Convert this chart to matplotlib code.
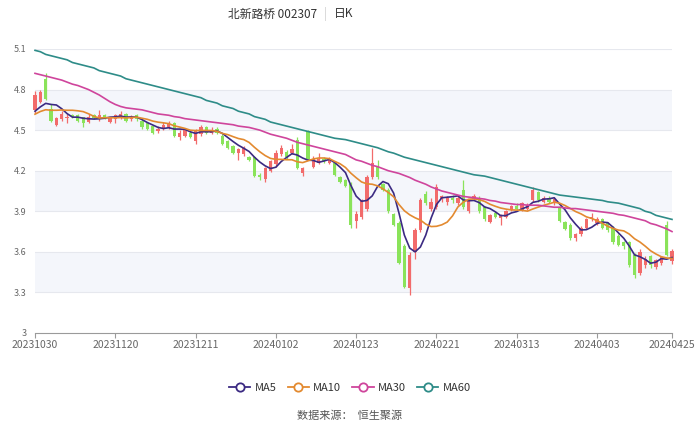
import matplotlib
matplotlib.use("Agg")
import matplotlib.pyplot as plt
from matplotlib.lines import Line2D
import numpy as np
import pandas as pd

plt.rcParams['font.family'] = ['Noto Sans CJK SC', 'DejaVu Sans']

title = "北新路桥 002307"
period = "日K"
source = "数据来源：  恒生聚源"

# trading days 2023-10-30 .. 2024-04-25 (weekday holidays removed)
holidays = ['2024-01-01', '2024-02-09', '2024-02-12', '2024-02-13', '2024-02-14',
            '2024-02-15', '2024-02-16', '2024-04-04', '2024-04-05']
dates = pd.bdate_range('2023-10-30', '2024-04-25')
dates = dates[~dates.isin(pd.to_datetime(holidays))]

open_ = [4.65, 4.71, 4.88, 4.66, 4.54, 4.58, 4.59, 4.61, 4.61, 4.60,
         4.56, 4.61, 4.58, 4.61, 4.56, 4.58, 4.59, 4.62, 4.58, 4.61,
         4.57, 4.55, 4.53, 4.49, 4.51, 4.52, 4.55, 4.45, 4.46, 4.48,
         4.42, 4.47, 4.52, 4.48, 4.51, 4.46, 4.42, 4.38, 4.33, 4.32,
         4.30, 4.30, 4.17, 4.14, 4.20, 4.25, 4.32, 4.34, 4.33, 4.43,
         4.18, 4.49, 4.23, 4.26, 4.29, 4.26, 4.26, 4.15, 4.13, 4.10,
         3.83, 3.86, 3.92, 4.15, 4.23, 4.10, 4.06, 3.88, 3.81, 3.64,
         3.33, 3.60, 3.76, 4.03, 3.92, 3.93, 3.99, 3.97, 4.00, 3.96,
         4.06, 3.90, 3.99, 4.00, 3.93, 3.82, 3.89, 3.85, 3.86, 3.91,
         3.94, 3.91, 3.92, 3.98, 4.04, 3.97, 4.00, 3.96, 3.93, 3.82,
         3.80, 3.70, 3.73, 3.78, 3.84, 3.81, 3.84, 3.81, 3.78, 3.72,
         3.67, 3.67, 3.58, 3.44, 3.50, 3.57, 3.49, 3.52, 3.80, 3.53]
high = [4.79, 4.80, 4.92, 4.69, 4.60, 4.64, 4.62, 4.62, 4.62, 4.60,
        4.62, 4.62, 4.65, 4.62, 4.60, 4.62, 4.64, 4.63, 4.61, 4.62,
        4.58, 4.56, 4.54, 4.53, 4.56, 4.57, 4.56, 4.50, 4.51, 4.49,
        4.51, 4.54, 4.53, 4.52, 4.52, 4.47, 4.43, 4.39, 4.37, 4.38,
        4.31, 4.31, 4.18, 4.23, 4.28, 4.35, 4.39, 4.35, 4.40, 4.45,
        4.23, 4.50, 4.31, 4.33, 4.30, 4.30, 4.27, 4.16, 4.14, 4.12,
        3.90, 3.99, 4.17, 4.37, 4.28, 4.11, 4.07, 3.89, 3.83, 3.66,
        3.60, 3.78, 4.00, 4.05, 4.00, 4.10, 4.02, 4.01, 4.02, 4.02,
        4.13, 3.99, 4.03, 4.01, 3.94, 3.88, 3.90, 3.88, 3.91, 3.95,
        3.96, 3.97, 3.96, 4.08, 4.05, 4.01, 4.01, 4.00, 3.94, 3.83,
        3.81, 3.74, 3.79, 3.85, 3.89, 3.86, 3.85, 3.82, 3.79, 3.73,
        3.68, 3.68, 3.59, 3.62, 3.57, 3.58, 3.55, 3.57, 3.83, 3.62]
low = [4.63, 4.70, 4.72, 4.56, 4.53, 4.57, 4.55, 4.59, 4.56, 4.52,
       4.55, 4.58, 4.57, 4.58, 4.55, 4.55, 4.58, 4.56, 4.57, 4.57,
       4.51, 4.50, 4.47, 4.48, 4.50, 4.51, 4.45, 4.43, 4.45, 4.44,
       4.40, 4.46, 4.47, 4.47, 4.47, 4.39, 4.36, 4.32, 4.28, 4.31,
       4.27, 4.15, 4.13, 4.12, 4.19, 4.23, 4.31, 4.29, 4.32, 4.21,
       4.16, 4.28, 4.22, 4.25, 4.26, 4.25, 4.16, 4.11, 4.08, 3.78,
       3.78, 3.84, 3.90, 4.14, 4.14, 4.05, 3.89, 3.79, 3.51, 3.33,
       3.28, 3.55, 3.75, 3.95, 3.90, 3.92, 3.97, 3.95, 3.96, 3.95,
       3.92, 3.89, 3.98, 3.89, 3.83, 3.81, 3.85, 3.80, 3.85, 3.90,
       3.91, 3.90, 3.91, 3.97, 3.97, 3.96, 3.96, 3.95, 3.82, 3.76,
       3.69, 3.68, 3.72, 3.77, 3.83, 3.80, 3.77, 3.75, 3.66, 3.64,
       3.62, 3.49, 3.41, 3.43, 3.48, 3.48, 3.47, 3.50, 3.57, 3.51]
close = [4.76, 4.78, 4.73, 4.57, 4.59, 4.62, 4.60, 4.60, 4.57, 4.55,
         4.60, 4.59, 4.61, 4.59, 4.59, 4.61, 4.62, 4.57, 4.60, 4.58,
         4.52, 4.51, 4.48, 4.51, 4.54, 4.55, 4.46, 4.48, 4.50, 4.45,
         4.49, 4.52, 4.48, 4.50, 4.48, 4.40, 4.37, 4.33, 4.36, 4.37,
         4.28, 4.16, 4.15, 4.22, 4.27, 4.33, 4.37, 4.30, 4.36, 4.22,
         4.22, 4.29, 4.29, 4.29, 4.27, 4.28, 4.17, 4.12, 4.09, 3.80,
         3.88, 3.98, 4.15, 4.26, 4.15, 4.06, 3.90, 3.80, 3.52, 3.34,
         3.58, 3.76, 3.98, 3.96, 3.97, 4.08, 4.01, 4.00, 3.98, 4.00,
         3.93, 3.98, 4.01, 3.90, 3.84, 3.87, 3.86, 3.87, 3.90, 3.94,
         3.92, 3.96, 3.95, 4.06, 3.98, 4.00, 3.97, 3.99, 3.83, 3.77,
         3.70, 3.73, 3.78, 3.84, 3.86, 3.84, 3.78, 3.76, 3.67, 3.65,
         3.64, 3.50, 3.43, 3.60, 3.55, 3.50, 3.54, 3.56, 3.58, 3.61]
# closes of the nine sessions before the window (read from MA5/MA10 start)
prior_close = [4.58, 4.60, 4.61, 4.59, 4.60, 4.62, 4.60, 4.61, 4.61]

# MA30 / MA60 (need history outside the window)
ma30 = [4.92, 4.91, 4.90, 4.89, 4.88, 4.87, 4.855, 4.84, 4.83, 4.815,
        4.80, 4.78, 4.76, 4.735, 4.71, 4.69, 4.675, 4.665, 4.66, 4.655,
        4.65, 4.64, 4.63, 4.62, 4.615, 4.61, 4.60, 4.595, 4.585, 4.58,
        4.575, 4.57, 4.565, 4.56, 4.555, 4.55, 4.545, 4.54, 4.53, 4.525,
        4.52, 4.51, 4.50, 4.485, 4.47, 4.46, 4.45, 4.44, 4.425, 4.41,
        4.40, 4.39, 4.38, 4.37, 4.36, 4.35, 4.34, 4.33, 4.32, 4.30,
        4.28, 4.27, 4.255, 4.24, 4.23, 4.215, 4.20, 4.19, 4.18, 4.165,
        4.15, 4.13, 4.115, 4.10, 4.08, 4.065, 4.05, 4.04, 4.03, 4.02,
        4.01, 4.005, 4.00, 3.995, 3.99, 3.98, 3.975, 3.965, 3.96, 3.955,
        3.95, 3.95, 3.945, 3.945, 3.945, 3.94, 3.935, 3.93, 3.93, 3.925,
        3.92, 3.92, 3.915, 3.91, 3.905, 3.90, 3.895, 3.89, 3.885, 3.875,
        3.87, 3.86, 3.85, 3.84, 3.83, 3.81, 3.80, 3.785, 3.77, 3.75]
ma60 = [5.09, 5.08, 5.06, 5.05, 5.04, 5.03, 5.02, 5.00, 4.99, 4.98,
        4.97, 4.96, 4.94, 4.93, 4.92, 4.91, 4.90, 4.88, 4.87, 4.86,
        4.85, 4.84, 4.83, 4.82, 4.81, 4.80, 4.79, 4.78, 4.77, 4.76,
        4.75, 4.74, 4.72, 4.71, 4.70, 4.68, 4.67, 4.66, 4.64, 4.63,
        4.62, 4.60, 4.59, 4.58, 4.56, 4.55, 4.54, 4.53, 4.52, 4.51,
        4.50, 4.49, 4.48, 4.47, 4.46, 4.45, 4.44, 4.435, 4.43, 4.42,
        4.41, 4.40, 4.39, 4.38, 4.37, 4.355, 4.34, 4.33, 4.315, 4.30,
        4.29, 4.28, 4.27, 4.26, 4.25, 4.24, 4.23, 4.22, 4.21, 4.20,
        4.19, 4.18, 4.17, 4.165, 4.16, 4.15, 4.14, 4.13, 4.12, 4.11,
        4.10, 4.09, 4.08, 4.07, 4.06, 4.05, 4.04, 4.03, 4.02, 4.015,
        4.01, 4.005, 4.00, 3.995, 3.99, 3.985, 3.98, 3.97, 3.965, 3.96,
        3.95, 3.94, 3.93, 3.92, 3.90, 3.89, 3.87, 3.86, 3.85, 3.84]

tick_idx = [0, 15, 30, 45, 60, 75, 90, 105, 119]
y_ticks = [3.0, 3.3, 3.6, 3.9, 4.2, 4.5, 4.8, 5.1]

UP = '#f26b6b'
DOWN = '#8ae35a'
MA_COLORS = {'MA5': '#3b2a82', 'MA10': '#e38a30', 'MA30': '#cf459c', 'MA60': '#2e8c88'}

o = np.array(open_)
h = np.array(high)
l = np.array(low)
c = np.array(close)
x = np.arange(len(c))

all_close = pd.Series(prior_close + close)
ma5 = all_close.rolling(5).mean().to_numpy()[len(prior_close):]
ma10 = all_close.rolling(10).mean().to_numpy()[len(prior_close):]

fig = plt.figure(figsize=(7, 4.26), dpi=100)
ax = fig.add_axes([35 / 700, 1 - 333 / 426, (672 - 35) / 700, (333 - 49) / 426])

# alternating split areas and grid
for k in range(len(y_ticks) - 1):
    if k % 2 == 1:
        ax.axhspan(y_ticks[k], y_ticks[k + 1], color='#f4f6fb', zorder=0, lw=0)
for yt in y_ticks[1:]:
    ax.axhline(yt, color='#e6e8ee', lw=0.8, zorder=0.5)

# candles
colors = np.where(c >= o, UP, DOWN)
ax.vlines(x, l, h, colors=colors, lw=0.9, zorder=2, clip_on=False)
body_h = np.maximum(np.abs(c - o), 0.006)
ax.bar(x, body_h, bottom=np.minimum(o, c), width=0.62, color=colors,
       linewidth=0, zorder=2.5, clip_on=False)

# moving averages
for name, vals in [('MA5', ma5), ('MA10', ma10), ('MA30', ma30), ('MA60', ma60)]:
    ax.plot(x, vals, color=MA_COLORS[name], lw=1.2, zorder=3, clip_on=False)

ax.set_xlim(0, len(c) - 1)
ax.set_ylim(3.0, 5.1)
ax.set_yticks(y_ticks)
ax.set_yticklabels([f'{v:g}' for v in y_ticks])
ax.set_xticks(tick_idx)
ax.set_xticklabels([dates[i].strftime('%Y%m%d') for i in tick_idx])
ax.tick_params(axis='y', length=0, labelsize=6.5, labelcolor='#666666', pad=6)
ax.tick_params(axis='x', length=3.5, width=0.8, color='#9a9a9a', labelsize=7.5,
               labelcolor='#666666', pad=1.5)
for side in ['top', 'right', 'left']:
    ax.spines[side].set_visible(False)
ax.spines['bottom'].set_color('#9a9a9a')
ax.spines['bottom'].set_linewidth(0.8)

# title
fig.text(273 / 700, 1 - 14 / 426, title, ha='center', va='center', fontsize=8.5, color='#333333')
fig.text(325 / 700, 1 - 14 / 426, '|', ha='center', va='center', fontsize=8.5, color='#d0d0d0')
fig.text(344 / 700, 1 - 14 / 426, period, ha='center', va='center', fontsize=8.5, color='#333333')

# legend
handles = [Line2D([0], [0], color=col, lw=1.3, marker='o', markersize=6,
                  markerfacecolor='white', markeredgewidth=1.3, label=name)
           for name, col in MA_COLORS.items()]
fig.legend(handles=handles, loc='center', bbox_to_anchor=(0.5, 1 - 388 / 426), ncol=4,
           frameon=False, fontsize=8, handlelength=1.9, handletextpad=0.4,
           columnspacing=1.0, labelcolor='#333333')

fig.text(0.5, 1 - 416 / 426, source, ha='center', va='center', fontsize=8, color='#555555')

fig.savefig('out.png', dpi=100)
